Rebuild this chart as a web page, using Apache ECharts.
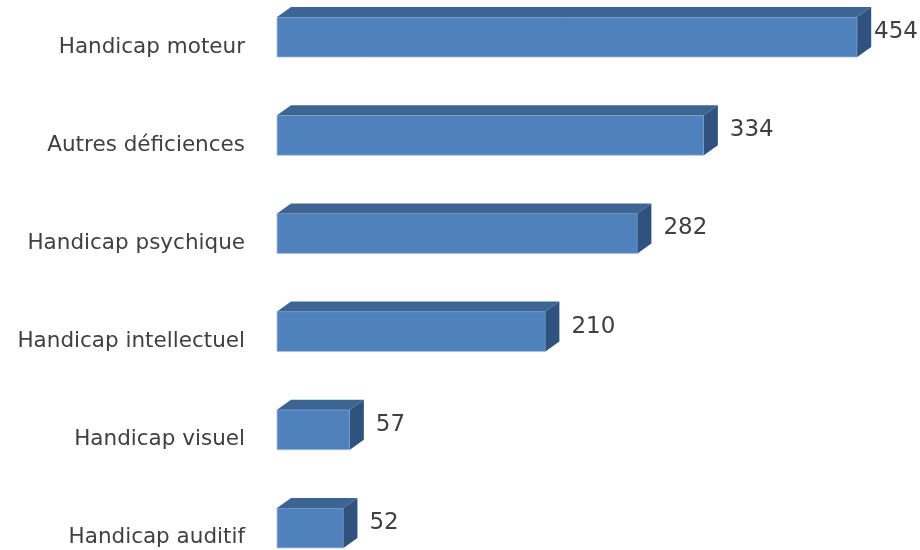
<!DOCTYPE html>
<html><head><meta charset="utf-8">
<script src="https://cdn.jsdelivr.net/npm/echarts@6/dist/echarts.min.js"></script>
<style>html,body{margin:0;padding:0;background:#fff;overflow:hidden;width:920px;height:550px}#c{width:920px;height:600px;margin-top:-2px}</style>
</head><body><div id="c"></div>
<script>
const categories = ['Handicap moteur','Autres déficiences','Handicap psychique','Handicap intellectuel','Handicap visuel','Handicap auditif'];
const values = [454, 334, 282, 210, 57, 52];

const FONT = 'DejaVu Sans';
const chart = echarts.init(document.getElementById('c'));
const DX = 14, DY = 10, BH = 40, SHIFT = 10;
chart.setOption({
  animation: false,
  grid: { left: 277, right: 4, top: 0, height: 589 },
  xAxis: { type: 'value', min: 0, max: 500, show: false },
  yAxis: {
    type: 'category', data: categories, inverse: true,
    axisLine: { show: false }, axisTick: { show: false }, splitLine: { show: false },
    axisLabel: { margin: 32, fontSize: 21.5, color: '#404040', fontFamily: FONT }
  },
  series: [{
    type: 'custom',
    clip: false,
    encode: { x: 0, y: 1 },
    data: values.map((v, i) => [v, i]),
    renderItem: function (params, api) {
      const i = api.value(1), v = api.value(0);
      const p0 = api.coord([0, i]);
      const p1 = api.coord([v, i]);
      const x0 = p0[0], x1 = p1[0];
      const cy = p0[1] - SHIFT;
      const top = cy - BH / 2, bot = cy + BH / 2;
      const W = api.getWidth();
      const lx = Math.min(x1 + DX + 12, W - 46);
      return {
        type: 'group',
        children: [
          { type: 'rect', shape: { x: x0, y: top, width: x1 - x0, height: BH },
            style: { fill: '#4F81BD', stroke: '#A9BFDD', lineWidth: 0.8 } },
          { type: 'polygon', shape: { points: [[x0, top], [x0 + DX, top - DY], [x1 + DX, top - DY], [x1, top]] },
            style: { fill: '#3D6594' } },
          { type: 'polygon', shape: { points: [[x1, top], [x1 + DX, top - DY], [x1 + DX, bot - DY], [x1, bot]] },
            style: { fill: '#30527F' } },
          { type: 'text', style: { x: lx, y: cy - 5, text: String(v), fontSize: 23, fill: '#404040',
            fontFamily: FONT, textAlign: 'left', textVerticalAlign: 'middle' } }
        ]
      };
    }
  }]
});
</script></body></html>
